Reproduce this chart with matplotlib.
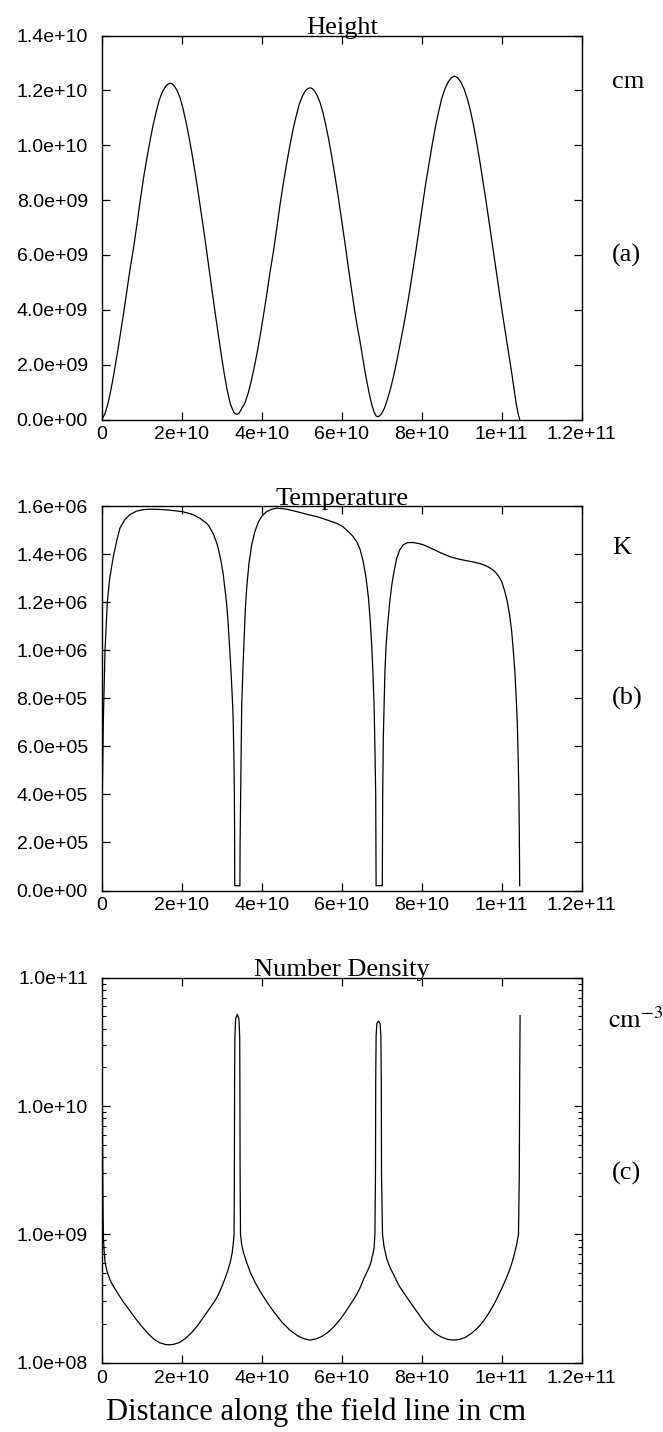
import numpy as np
import matplotlib
matplotlib.use("Agg")
import matplotlib.pyplot as plt
from matplotlib.ticker import FixedLocator, FuncFormatter, LogLocator, NullFormatter

# ---- data (distance in 1e10 cm) ----
# (a) height, 1e9 cm
h_x = [0, 0.08, 0.16, 0.24, 0.32, 0.4, 0.46, 0.55, 0.62, 0.7, 0.79, 0.88, 0.96, 1.04, 1.12, 1.2, 1.28, 1.36,
       1.44, 1.52, 1.6, 1.66, 1.71, 1.76, 1.82, 1.89, 1.96, 2.03, 2.1, 2.17, 2.25, 2.33, 2.41, 2.5, 2.58, 2.66,
       2.74, 2.82, 2.9, 2.98, 3.06, 3.14, 3.22, 3.3, 3.36, 3.4, 3.44,
       3.5, 3.58, 3.66, 3.74, 3.82, 3.9, 3.96, 4.05, 4.12, 4.2, 4.29, 4.38, 4.46, 4.54, 4.62, 4.7, 4.78, 4.86,
       4.94, 5.02, 5.1, 5.16, 5.21, 5.26, 5.32, 5.39, 5.46, 5.53, 5.6, 5.67, 5.75, 5.83, 5.91, 6.0, 6.08, 6.16,
       6.24, 6.32, 6.4, 6.44, 6.52, 6.6, 6.68, 6.75, 6.81, 6.86, 6.9, 6.94,
       7.0, 7.07, 7.14, 7.22, 7.3, 7.38, 7.46, 7.54, 7.62, 7.7, 7.78, 7.86, 7.94, 8.02, 8.1, 8.18, 8.26, 8.34,
       8.42, 8.5, 8.58, 8.66, 8.74, 8.82, 8.9, 8.98, 9.06, 9.14, 9.22, 9.3, 9.38, 9.46, 9.54, 9.62, 9.7, 9.78,
       9.86, 9.94, 10.02, 10.1, 10.18, 10.25, 10.31, 10.36, 10.41, 10.45]
h_y = [0, 0.2, 0.6, 1.15, 1.8, 2.5, 3.06, 3.9, 4.6, 5.4, 6.2, 7.1, 7.95, 8.75, 9.45, 10.1, 10.7, 11.2,
       11.65, 11.95, 12.15, 12.23, 12.26, 12.24, 12.15, 11.98, 11.72, 11.35, 10.9, 10.4, 9.75, 9.05, 8.3, 7.4,
       6.6, 5.75, 4.9, 4.05, 3.25, 2.45, 1.7, 1.05, 0.55, 0.27, 0.19, 0.2, 0.24,
       0.4, 0.6, 0.95, 1.4, 1.95, 2.55, 3.05, 3.85, 4.5, 5.3, 6.1, 7.0, 7.85, 8.6, 9.3, 9.95, 10.55, 11.05,
       11.5, 11.8, 12.0, 12.07, 12.09, 12.07, 11.98, 11.8, 11.55, 11.2, 10.75, 10.25, 9.6, 8.9, 8.15, 7.25,
       6.45, 5.6, 4.8, 4.0, 3.3, 3.0, 2.3, 1.6, 1.0, 0.55, 0.27, 0.13, 0.1, 0.12,
       0.22, 0.42, 0.72, 1.12, 1.6, 2.15, 2.75, 3.35, 4.0, 4.7, 5.45, 6.2, 7.0, 7.8, 8.6, 9.3, 10.0, 10.65,
       11.2, 11.7, 12.05, 12.3, 12.46, 12.52, 12.46, 12.3, 12.05, 11.7, 11.25, 10.7, 10.05, 9.35, 8.6, 7.85,
       7.05, 6.25, 5.45, 4.65, 3.85, 3.1, 2.35, 1.7, 1.1, 0.6, 0.22, 0.0]

# (b) temperature, K
t_x = [0.0, 0.004, 0.017, 0.04, 0.083, 0.14, 0.2, 0.29, 0.38, 0.458, 0.58, 0.71, 0.87, 1.04, 1.2, 1.375, 1.55,
       1.7, 1.85, 2.0, 2.2, 2.3, 2.375, 2.45, 2.52, 2.58, 2.625, 2.68, 2.74, 2.79, 2.83, 2.88, 2.92, 2.96, 3.0,
       3.04, 3.07, 3.1, 3.125, 3.15, 3.17, 3.19, 3.21, 3.23, 3.245, 3.26, 3.275, 3.29, 3.3, 3.31, 3.317,
       3.322, 3.325, 3.455,
       3.46, 3.475, 3.49, 3.5, 3.53, 3.56, 3.59, 3.625, 3.68, 3.75, 3.83, 3.92, 4.02, 4.125, 4.25, 4.375, 4.54,
       4.7, 4.875, 5.1, 5.375, 5.6, 5.875, 6.03, 6.17, 6.28, 6.375, 6.46, 6.54, 6.61, 6.67, 6.71, 6.75, 6.78,
       6.81, 6.83, 6.85, 6.855, 6.86, 7.015,
       7.02, 7.025, 7.04, 7.06, 7.08, 7.11, 7.15, 7.2, 7.25, 7.31, 7.375, 7.45, 7.54, 7.65, 7.79, 7.92, 8.04,
       8.2, 8.375, 8.55, 8.71, 8.88, 9.04, 9.2, 9.375, 9.5, 9.625, 9.73, 9.83, 9.92, 10.0, 10.07, 10.14, 10.2,
       10.25, 10.29, 10.33, 10.36, 10.39, 10.41, 10.43, 10.44, 10.45]
t_y = [2e4, 1.5e5, 4.1e5, 7.0e5, 1.0e6, 1.2e6, 1.3e6, 1.39e6, 1.46e6, 1.51e6, 1.545e6, 1.566e6, 1.58e6,
       1.586e6, 1.588e6, 1.5875e6, 1.586e6, 1.584e6, 1.581e6, 1.578e6, 1.57e6, 1.564e6, 1.557e6, 1.551e6,
       1.542e6, 1.535e6, 1.529e6, 1.518e6, 1.5e6, 1.485e6, 1.467e6, 1.445e6, 1.42e6, 1.39e6, 1.356e6,
       1.315e6, 1.27e6, 1.23e6, 1.189e6, 1.14e6, 1.09e6, 1.035e6, 9.8e5, 9.2e5, 8.7e5, 8.2e5, 7.7e5, 6.9e5,
       6.0e5, 5.0e5, 3.98e5, 2.5e5, 2e4, 2e4,
       2e5, 4e5, 6.2e5, 7.7e5, 9.2e5, 1.05e6, 1.17e6, 1.26e6, 1.36e6, 1.44e6, 1.495e6, 1.536e6, 1.562e6,
       1.578e6, 1.588e6, 1.592e6, 1.59e6, 1.585e6, 1.578e6, 1.568e6, 1.557e6, 1.545e6, 1.529e6, 1.515e6,
       1.494e6, 1.475e6, 1.453e6, 1.42e6, 1.369e6, 1.3e6, 1.217e6, 1.13e6, 1.022e6, 9.1e5, 7.7e5, 6.0e5,
       4e5, 2.5e5, 2e4, 2e4,
       2e5, 4e5, 6.3e5, 7.8e5, 9.1e5, 1.02e6, 1.11e6, 1.2e6, 1.27e6, 1.33e6, 1.383e6, 1.418e6, 1.44e6,
       1.449e6, 1.449e6, 1.445e6, 1.44e6, 1.428e6, 1.414e6, 1.401e6, 1.39e6, 1.382e6, 1.376e6, 1.371e6,
       1.365e6, 1.359e6, 1.351e6, 1.341e6, 1.328e6, 1.31e6, 1.286e6, 1.25e6, 1.203e6, 1.145e6, 1.078e6,
       1.0e6, 9.1e5, 8.1e5, 7.0e5, 5.7e5, 4e5, 2.5e5, 2e4]

# (c) number density, cm^-3
n_x = [0.0, 0.005, 0.01, 0.02, 0.03, 0.042, 0.06, 0.083, 0.13, 0.21, 0.3, 0.42, 0.55, 0.7, 0.85, 1.0, 1.15,
       1.3, 1.45, 1.6, 1.7, 1.8, 1.95, 2.1, 2.25, 2.4, 2.55, 2.7, 2.82, 2.92, 3.0, 3.08, 3.15, 3.21, 3.26,
       3.29, 3.31, 3.317, 3.322, 3.33, 3.35, 3.39, 3.43, 3.45, 3.455, 3.46, 3.47,
       3.5, 3.54, 3.62, 3.71, 3.83, 3.96, 4.12, 4.3, 4.5, 4.7, 4.9, 5.05, 5.2, 5.35, 5.5, 5.65, 5.8, 5.95,
       6.1, 6.25, 6.375, 6.47, 6.55, 6.62, 6.67, 6.72, 6.745, 6.755, 6.78, 6.81, 6.83,
       6.845, 6.85, 6.86, 6.88, 6.92, 6.96, 6.98, 6.99, 6.995, 7.02,
       7.06, 7.125, 7.2, 7.29, 7.43, 7.58, 7.75, 7.9, 8.05, 8.2, 8.35, 8.5, 8.65, 8.8, 8.95, 9.1, 9.25, 9.4,
       9.55, 9.7, 9.82, 9.92, 10.02, 10.12, 10.2, 10.27, 10.33, 10.38, 10.42, 10.44, 10.45, 10.46]
n_y = [5.1e10, 4.0e10, 2.5e10, 8e9, 2e9, 9.6e8, 7.5e8, 6.1e8, 5.2e8, 4.4e8, 3.9e8, 3.4e8, 2.95e8, 2.55e8,
       2.2e8, 1.92e8, 1.7e8, 1.53e8, 1.43e8, 1.385e8, 1.38e8, 1.39e8, 1.44e8, 1.55e8, 1.72e8, 1.95e8, 2.28e8,
       2.65e8, 3.0e8, 3.4e8, 3.9e8, 4.5e8, 5.2e8, 6.0e8, 7.1e8, 8.5e8, 1.0e9, 3e9, 1.5e10, 3.5e10, 4.8e10,
       5.18e10, 4.8e10, 3.5e10, 1.5e10, 3e9, 1.0e9,
       8.3e8, 7.3e8, 6.1e8, 5.1e8, 4.25e8, 3.6e8, 3.0e8, 2.5e8, 2.08e8, 1.8e8, 1.62e8, 1.54e8, 1.5e8, 1.53e8,
       1.6e8, 1.72e8, 1.9e8, 2.15e8, 2.5e8, 2.95e8, 3.4e8, 3.9e8, 4.5e8, 5.0e8, 5.4e8, 5.9e8, 6.3e8, 6.6e8,
       7.0e8, 7.8e8, 1.0e9,
       3e9, 1.5e10, 3.5e10, 4.4e10, 4.6e10, 4.4e10, 3.5e10, 1.5e10, 3e9, 1.0e9,
       8.0e8, 6.5e8, 5.6e8, 4.9e8, 4.0e8, 3.4e8, 2.85e8, 2.45e8, 2.1e8, 1.85e8, 1.68e8, 1.58e8, 1.52e8, 1.5e8,
       1.52e8, 1.58e8, 1.7e8, 1.87e8, 2.12e8, 2.5e8, 2.9e8, 3.35e8, 3.9e8, 4.6e8, 5.3e8, 6.2e8, 7.3e8, 8.5e8,
       1.0e9, 3e9, 1.74e10, 5.06e10]

x_ticks = [0, 2e10, 4e10, 6e10, 8e10, 1e11, 1.2e11]
titles = ["Height", "Temperature", "Number Density"]
units = ["cm", "K", r"$\mathrm{cm}^{-3}$"]
tags = ["(a)", "(b)", "(c)"]

plt.rcParams["font.family"] = ["Liberation Sans", "DejaVu Sans"]
plt.rcParams["mathtext.fontset"] = "stix"
SERIF = ["Liberation Serif", "DejaVu Serif"]

W, H = 663, 1432
fig = plt.figure(figsize=(W / 100, H / 100), dpi=100)

def box(top, bot, left=101.7, right=581.7):
    return [left / W, 1 - bot / H, (right - left) / W, (bot - top) / H]

axa = fig.add_axes(box(35.5, 419.5))
axb = fig.add_axes(box(506.3, 890.5))
axc = fig.add_axes(box(977.7, 1362.7))

axa.plot(np.array(h_x) * 1e10, np.array(h_y) * 1e9, color="k", lw=0.9)
axb.plot(np.array(t_x) * 1e10, t_y, color="k", lw=0.9)
axc.plot(np.array(n_x) * 1e10, n_y, color="k", lw=0.9)

axa.set_ylim(0, 1.4e10)
axa.yaxis.set_major_locator(FixedLocator(np.arange(0, 1.41e10, 2e9)))
axb.set_ylim(0, 1.6e6)
axb.yaxis.set_major_locator(FixedLocator(np.arange(0, 1.61e6, 2e5)))
axc.set_yscale("log")
axc.set_ylim(1e8, 1e11)
axc.yaxis.set_major_locator(LogLocator(base=10, numticks=10))
axc.yaxis.set_minor_locator(LogLocator(base=10, subs=np.arange(2, 10), numticks=10))
axc.yaxis.set_minor_formatter(NullFormatter())

sci = FuncFormatter(lambda v, p: "%.1e" % v)
gfmt = FuncFormatter(lambda v, p: "%g" % v)

for ax, ttl in zip([axa, axb, axc], titles):
    ax.set_xlim(0, 1.2e11)
    ax.xaxis.set_major_locator(FixedLocator(x_ticks))
    ax.xaxis.set_major_formatter(gfmt)
    ax.yaxis.set_major_formatter(sci)
    ax.tick_params(which="major", direction="in", top=True, right=True, length=6, width=0.9,
                   labelsize=14, colors="k")
    ax.tick_params(axis="y", which="major", pad=10)
    ax.tick_params(axis="x", which="major", pad=5)
    ax.tick_params(which="minor", direction="in", right=True, length=3, width=0.8)
    for s in ax.spines.values():
        s.set_linewidth(1.0)
    ax.set_title(ttl, family=SERIF, fontsize=19, pad=1)

fig.text(612 / W, 1 - 82 / H, units[0], family=SERIF, fontsize=19, ha="left", va="center")
fig.text(612 / W, 1 - 255 / H, tags[0], family=SERIF, fontsize=19, ha="left", va="center")
fig.text(612 / W, 1 - 548 / H, units[1], family=SERIF, fontsize=19, ha="left", va="center")
fig.text(612 / W, 1 - 698 / H, tags[1], family=SERIF, fontsize=19, ha="left", va="center")
fig.text(608 / W, 1 - 1020 / H, units[2], fontsize=19, ha="left", va="center")
fig.text(612 / W, 1 - 1173 / H, tags[2], family=SERIF, fontsize=19, ha="left", va="center")
fig.text(316 / W, 1 - 1412 / H, "Distance along the field line in cm", family=SERIF, fontsize=22,
         ha="center", va="center")

fig.savefig("out.png", dpi=100)
